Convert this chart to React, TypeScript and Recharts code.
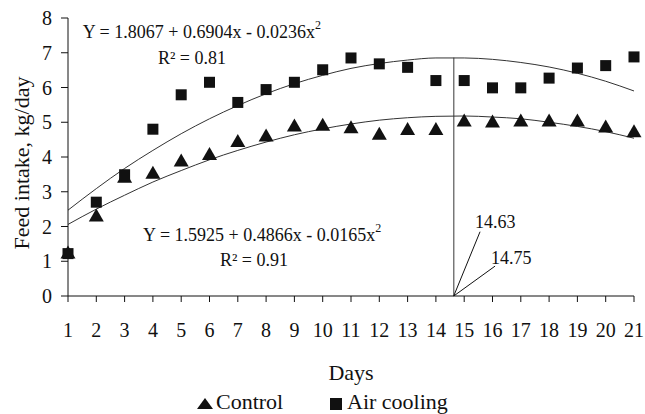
import React from "react";
import { ComposedChart, Line, Scatter, XAxis, YAxis, ReferenceLine, ReferenceDot } from "recharts";

const days = [1, 2, 3, 4, 5, 6, 7, 8, 9, 10, 11, 12, 13, 14, 15, 16, 17, 18, 19, 20, 21];
const control = [1.22, 2.29, 3.4, 3.52, 3.87, 4.06, 4.43, 4.59, 4.88, 4.9, 4.83, 4.64, 4.78, 4.78, 5.02, 4.99, 5.02, 5.02, 5.02, 4.85, 4.71];
const airCooling = [1.22, 2.7, 3.49, 4.8, 5.79, 6.15, 5.57, 5.94, 6.15, 6.51, 6.85, 6.68, 6.58, 6.2, 6.2, 5.99, 5.99, 6.27, 6.56, 6.63, 6.88];
// trend values
const controlFit = [2.06, 2.5, 2.9, 3.28, 3.61, 3.92, 4.19, 4.43, 4.64, 4.81, 4.95, 5.06, 5.13, 5.17, 5.18, 5.15, 5.1, 5.0, 4.88, 4.73, 4.54];
const airFit = [2.47, 3.09, 3.67, 4.19, 4.67, 5.1, 5.48, 5.82, 6.11, 6.35, 6.55, 6.69, 6.79, 6.85, 6.85, 6.81, 6.72, 6.59, 6.41, 6.18, 5.9];
const yTicks = [0, 1, 2, 3, 4, 5, 6, 7, 8];

const peakAir = { day: 14.63, value: 6.86 };
const peakControlDay = 14.75;

const data = days.map((d, i) => ({
  day: d,
  control: control[i],
  air: airCooling[i],
  controlFit: controlFit[i],
  airFit: airFit[i],
}));

const FONT = "Liberation Serif, serif";

const Triangle = (props: any) => {
  const { cx, cy } = props;
  return <polygon points={`${cx},${cy - 8} ${cx - 7.5},${cy + 5} ${cx + 7.5},${cy + 5}`} fill="#111" />;
};

const Square = (props: any) => {
  const { cx, cy } = props;
  return <rect x={cx - 5.5} y={cy - 5.5} width={11} height={11} fill="#111" />;
};

function note(lines: React.ReactNode, anchor: string = "middle", dx = 0, dy = 0) {
  return (p: any) => {
    const vb = p.viewBox || {};
    return (
      <text x={vb.x + dx} y={vb.y + dy} textAnchor={anchor} dominantBaseline="central"
        fontFamily={FONT} fontSize={18} fill="#111">
        {lines}
      </text>
    );
  };
}

const eq1 = <>Y = 1.8067 + 0.6904x - 0.0236x<tspan dy={-7} fontSize={12}>2</tspan></>;
const eq2 = <>Y = 1.5925 + 0.4866x - 0.0165x<tspan dy={-7} fontSize={12}>2</tspan></>;

export default function App() {
  return (
    <div style={{ position: "absolute", left: 0, top: 0, width: 645, height: 414, background: "#fff", fontFamily: FONT }}>
      <ComposedChart width={645} height={414} data={data} margin={{ top: 18, right: 11, left: 0, bottom: 0 }}>
        <XAxis dataKey="day" type="number" domain={[1, 21]} ticks={days} interval={0}
          height={118} tickSize={6} tickMargin={21} stroke="#111"
          tick={{ fontSize: 20, fill: "#111", fontFamily: FONT }}
          label={(p: any) => {
            const vb = p.viewBox;
            return <text x={vb.x + vb.width / 2} y={vb.y + 84} textAnchor="middle" fontFamily={FONT} fontSize={22} fill="#111">Days</text>;
          }} />
        <YAxis type="number" domain={[0, 8]} ticks={yTicks} width={68} tickSize={7} tickMargin={9}
          stroke="#111" tick={{ fontSize: 20, fill: "#111", fontFamily: FONT }}
          label={(p: any) => {
            const cx = 21;
            const cy = 163;
            return <text x={cx} y={cy} transform={`rotate(-90 ${cx} ${cy})`} textAnchor="middle" dominantBaseline="central" fontFamily={FONT} fontSize={22} fill="#111">Feed intake, kg/day</text>;
          }} />
        <ReferenceLine segment={[{ x: peakAir.day, y: 0 }, { x: peakAir.day, y: peakAir.value }]} stroke="#777" strokeWidth={1.5} />
        <ReferenceLine segment={[{ x: peakAir.day, y: 0 }, { x: 15.56, y: 1.85 }]} stroke="#111" strokeWidth={1} />
        <ReferenceLine segment={[{ x: peakAir.day, y: 0 }, { x: 16.09, y: 0.86 }]} stroke="#111" strokeWidth={1} />
        <Line dataKey="airFit" type="monotone" stroke="#333" strokeWidth={1} dot={false} isAnimationActive={false} />
        <Line dataKey="controlFit" type="monotone" stroke="#333" strokeWidth={1} dot={false} isAnimationActive={false} />
        <Scatter dataKey="control" shape={<Triangle />} isAnimationActive={false} />
        <Scatter dataKey="air" shape={<Square />} isAnimationActive={false} />
        <ReferenceDot x={5.73} y={7.61} r={0} fill="none" stroke="none" label={note(eq1)} />
        <ReferenceDot x={5.38} y={6.86} r={0} fill="none" stroke="none" label={note(<>R² = 0.81</>)} />
        <ReferenceDot x={7.86} y={1.76} r={0} fill="none" stroke="none" label={note(eq2)} />
        <ReferenceDot x={7.57} y={1.04} r={0} fill="none" stroke="none" label={note(<>R² = 0.91</>)} />
        <ReferenceDot x={15.56} y={1.85} r={0} fill="none" stroke="none" label={note(<>{peakAir.day.toFixed(2)}</>, "start", -5, -10)} />
        <ReferenceDot x={16.09} y={0.86} r={0} fill="none" stroke="none" label={note(<>{peakControlDay.toFixed(2)}</>, "start", -4, -8)} />
      </ComposedChart>
      <div style={{ position: "absolute", top: 390, left: 0, width: 645, height: 24, fontSize: 22, color: "#111", lineHeight: "24px", fontFamily: FONT }}>
        <span style={{ position: "absolute", left: 197, top: 0, display: "flex", alignItems: "flex-end", fontFamily: FONT }}>
          <svg width={16} height={11} style={{ marginRight: 3, marginBottom: 5 }}><polygon points="8,0 0,11 16,11" fill="#111" /></svg>
          Control
        </span>
        <span style={{ position: "absolute", left: 330, top: 0, display: "flex", alignItems: "flex-end", fontFamily: FONT }}>
          <svg width={12} height={12} style={{ marginRight: 5, marginBottom: 4 }}><rect x={0} y={0} width={12} height={12} fill="#111" /></svg>
          Air cooling
        </span>
      </div>
    </div>
  );
}
